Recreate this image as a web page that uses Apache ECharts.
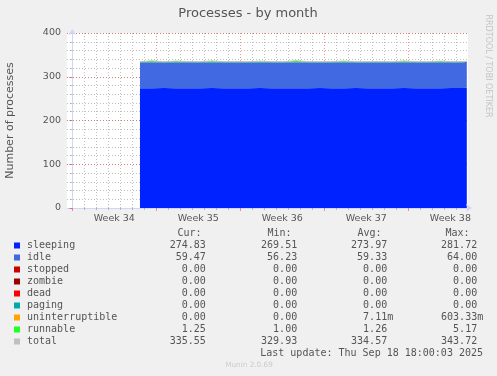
<!DOCTYPE html>
<html>
<head>
<meta charset="utf-8">
<script src="https://cdn.jsdelivr.net/npm/echarts@6/dist/echarts.min.js"></script>
<style>
html, body { margin: 0; padding: 0; background: #f0f0f0; }
#main { width: 497px; height: 376px; }
</style>
</head>
<body>
<div id="main"></div>
<script>
// x = days since start of week 34
var sampleDays = [5.64, 6.64, 7.64, 8.64, 9.64, 10.64, 11.64, 12.64, 13.64, 14.64, 15.64, 16.64, 17.64, 18.64, 19.64,
    20.64, 21.64, 22.64, 23.64, 24.64, 25.64, 26.64, 27.64, 28.64, 29.64, 30.64, 31.64, 32.64, 32.87];
var sleeping = [273.9, 274.0, 274.1, 273.9, 274.0, 273.9, 274.1, 274.0, 273.9, 274.0, 274.1, 274.0, 273.9, 274.0, 273.9,
    274.1, 274.0, 273.9, 274.1, 274.0, 273.9, 274.0, 274.1, 274.0, 273.9, 274.0, 274.1, 274.2, 274.83];
var idle = [59.3, 59.2, 59.1, 59.4, 59.3, 59.4, 59.2, 59.3, 59.4, 59.3, 59.2, 59.3, 59.4, 59.3, 59.4,
    59.2, 59.3, 59.4, 59.2, 59.3, 59.4, 59.3, 59.2, 59.3, 59.4, 59.3, 59.2, 59.2, 59.47];
var runnable = [1.2, 3.1, 1.1, 2.6, 1.3, 1.2, 2.9, 1.1, 1.3, 1.2, 2.4, 1.2, 1.1, 3.4, 1.2,
    1.1, 1.2, 2.7, 1.1, 1.2, 1.3, 1.1, 2.8, 1.2, 1.1, 2.5, 1.2, 1.3, 1.25];
var total = [334.4, 336.3, 334.3, 335.9, 334.6, 334.5, 336.2, 334.4, 334.6, 334.5, 335.7, 334.5, 334.4, 336.7, 334.5,
    334.4, 334.5, 336.0, 334.4, 334.5, 334.6, 334.4, 336.1, 334.5, 334.4, 335.8, 334.5, 334.7, 335.55];

var weekLabels = ['Week 34', 'Week 35', 'Week 36', 'Week 37', 'Week 38'];
var weekStarts = [0, 7, 14, 21, 28];
var weekMids = [3.5, 10.5, 17.5, 24.5, 31.5];
var dayLines = [1, 2, 3, 4, 5, 6, 8, 9, 10, 11, 12, 13, 15, 16, 17, 18, 19, 20, 22, 23, 24, 25, 26, 27, 29, 30, 31, 32];

// legend table (munin style)
var legendNames = ['sleeping', 'idle', 'stopped', 'zombie', 'dead', 'paging', 'uninterruptible', 'runnable', 'total'];
var legendColors = ['#0022ff', '#4169e1', '#cc0000', '#990000', '#ff0000', '#00aaaa', '#ffa500', '#22ff22', '#c0c0c0'];
var curValues = ['274.83', '59.47', '0.00', '0.00', '0.00', '0.00', '0.00', '1.25', '335.55'];
var minValues = ['269.51', '56.23', '0.00', '0.00', '0.00', '0.00', '0.00', '1.00', '329.93'];
var avgValues = ['273.97', '59.33', '0.00', '0.00', '0.00', '0.00', '7.11m', '1.26', '334.57'];
var maxValues = ['281.72', '64.00', '0.00', '0.00', '0.00', '0.00', '603.33m', '5.17', '343.72'];
var columnHeads = ['Cur:', 'Min:', 'Avg:', 'Max:'];
var lastUpdate = 'Last update: Thu Sep 18 18:00:03 2025';

var minorGrid = 'rgba(140,140,140,0.55)';
var majorGrid = 'rgba(222,79,79,0.6)';
var axisColor = '#cfd6f8';
var fontColor = '#555';

// [value, day] so the stacked dimension is the value one
function pairs(vals) {
    return sampleDays.map(function (d, i) { return [vals[i], d]; });
}

var chart = echarts.init(document.getElementById('main'), null, {renderer: 'canvas'});

// legend graphics
var graphics = [];
var mono = '10px "DejaVu Sans Mono"';
var headRight = [201.5, 291.5, 381.5, 469.5];
var colRight = [211.8, 303.2, 393.2, 483.2];
var cols = [curValues, minValues, avgValues, maxValues];
var rowTop = 245.5;

columnHeads.forEach(function (h, c) {
    graphics.push({type: 'text', x: headRight[c], y: 233.5,
        style: {text: h, font: mono, fill: fontColor, align: 'right', verticalAlign: 'middle'}});
});
legendNames.forEach(function (name, i) {
    var y = rowTop + i * 12;
    graphics.push({type: 'rect', shape: {x: 14, y: y - 3, width: 6, height: 6}, style: {fill: legendColors[i]}});
    graphics.push({type: 'text', x: 27, y: y,
        style: {text: name, font: mono, fill: fontColor, align: 'left', verticalAlign: 'middle'}});
    cols.forEach(function (col, c) {
        var v = col[i];
        var txt = /m$/.test(v) ? v : v + ' ';
        graphics.push({type: 'text', x: colRight[c], y: y,
            style: {text: txt, font: mono, fill: fontColor, align: 'right', verticalAlign: 'middle'}});
    });
});
graphics.push({type: 'text', x: 483, y: 353.5,
    style: {text: lastUpdate, font: mono, fill: fontColor, align: 'right', verticalAlign: 'middle'}});
graphics.push({type: 'text', x: 248, y: 13.5,
    style: {text: 'Processes - by month', font: '13px "DejaVu Sans"', fill: fontColor, align: 'center', verticalAlign: 'middle'}});
graphics.push({type: 'text', x: 488, y: 66, rotation: -Math.PI / 2,
    style: {text: 'RRDTOOL / TOBI OETIKER', font: '8px "DejaVu Sans"', fill: '#c4c4c4', align: 'center', verticalAlign: 'middle'}});
graphics.push({type: 'text', x: 249, y: 365,
    style: {text: 'Munin 2.0.69', font: '7.3px "DejaVu Sans"', fill: '#cccccc', align: 'center', verticalAlign: 'middle'}});

function areaSeries(name, vals, color) {
    return {
        name: name, type: 'line', stack: 'procs', xAxisIndex: 1, yAxisIndex: 1,
        encode: {x: 1, y: 0},
        showSymbol: false, color: color,
        lineStyle: {width: 0}, areaStyle: {color: color, opacity: 1},
        data: pairs(vals)
    };
}

var option = {
    animation: false,
    backgroundColor: '#f0f0f0',
    textStyle: {fontFamily: 'DejaVu Sans'},
    grid: {
        left: 67, top: 33, width: 401, height: 175,
        outerBoundsMode: 'none', containLabel: false,
        show: true, backgroundColor: '#ffffff', borderWidth: 0
    },
    xAxis: [
        {
            // daily grid
            type: 'value', min: -0.44, max: 32.97, position: 'bottom', z: 3,
            axisLine: {show: false},
            axisLabel: {show: false},
            axisTick: {show: true, length: 2, customValues: dayLines, lineStyle: {color: minorGrid}},
            splitLine: {show: true, lineStyle: {color: minorGrid, type: [1, 2], width: 1}}
        },
        {
            // weekly grid + labels
            type: 'value', min: -0.44, max: 32.97, position: 'bottom', z: 3,
            axisLine: {
                show: true, lineStyle: {color: axisColor, width: 1},
                symbol: ['none', 'arrow'], symbolSize: [6, 6], symbolOffset: [0, 4]
            },
            axisTick: {show: true, length: 3, customValues: weekStarts, lineStyle: {color: majorGrid}},
            axisLabel: {
                customValues: weekMids, color: fontColor, fontSize: 9.5, margin: 6,
                formatter: function (v) { return weekLabels[weekMids.indexOf(v)]; }
            },
            splitLine: {show: true, lineStyle: {color: majorGrid, type: [1, 2], width: 1}}
        }
    ],
    yAxis: [
        {
            type: 'value', min: 0, max: 400, interval: 20, position: 'left', z: 3,
            axisLine: {show: false},
            axisLabel: {show: false},
            axisTick: {show: true, length: 2, lineStyle: {color: minorGrid}},
            splitLine: {show: true, lineStyle: {color: minorGrid, type: [1, 2], width: 1}}
        },
        {
            type: 'value', min: 0, max: 400, interval: 100, position: 'left', z: 3,
            name: 'Number of processes', nameLocation: 'middle', nameGap: 51, nameRotate: 90,
            nameTextStyle: {color: fontColor, fontSize: 11},
            axisLine: {
                show: true, lineStyle: {color: axisColor, width: 1},
                symbol: ['none', 'arrow'], symbolSize: [6, 6], symbolOffset: [0, 4]
            },
            axisTick: {show: true, length: 3, lineStyle: {color: majorGrid}},
            axisLabel: {color: fontColor, fontSize: 9.5, margin: 6},
            splitLine: {show: true, lineStyle: {color: majorGrid, type: [1, 2], width: 1}}
        }
    ],
    series: [
        areaSeries('sleeping', sleeping, legendColors[0]),
        areaSeries('idle', idle, legendColors[1]),
        areaSeries('runnable', runnable, legendColors[7]),
        {
            name: 'total', type: 'line', xAxisIndex: 1, yAxisIndex: 1,
            encode: {x: 1, y: 0},
            showSymbol: false, color: legendColors[8],
            lineStyle: {width: 1, color: legendColors[8]},
            data: pairs(total)
        }
    ],
    graphic: graphics
};

chart.setOption(option);
</script>
</body>
</html>
